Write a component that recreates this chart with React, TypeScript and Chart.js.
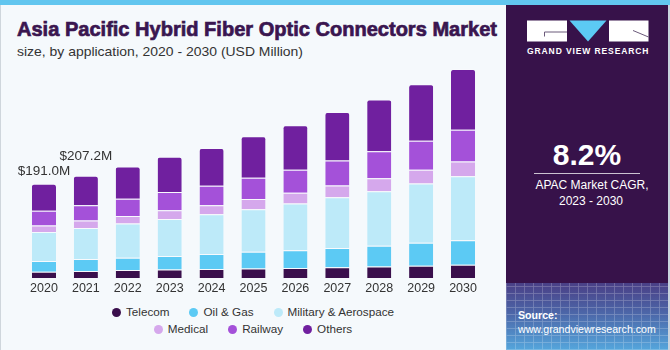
import React, { useEffect, useLayoutEffect, useRef } from "react";
import { Chart, registerables } from "chart.js";

Chart.register(...registerables);

const years = ["2020", "2021", "2022", "2023", "2024", "2025", "2026", "2027", "2028", "2029", "2030"];
const telecom = [12.9, 14.2, 16.0, 17.4, 18.4, 19.2, 20.3, 21.7, 23.5, 25.0, 27.0];
const oilGas = [21.6, 24.4, 25.0, 27.0, 30.5, 33.8, 35.9, 39.2, 42.0, 46.7, 49.3];
const military = [58.9, 62.9, 69.7, 75.1, 80.5, 86.6, 94.8, 102.9, 110.3, 119.8, 129.9];
const medical = [12.9, 14.9, 14.9, 17.6, 18.3, 20.3, 21.7, 23.7, 26.4, 27.8, 29.8];
const railway = [29.8, 31.1, 35.2, 37.2, 39.3, 43.3, 46.7, 50.8, 54.8, 58.9, 64.4];
const others = [55.0, 59.7, 65.0, 71.7, 76.5, 83.9, 90.0, 98.0, 104.9, 114.3, 123.2];
const totalLabels = ["$191.0M", "$207.2M"];

const seriesNames = ["Telecom", "Oil & Gas", "Military & Aerospace", "Medical", "Railway", "Others"];
const seriesColors = ["#3a0f4c", "#5ccaf4", "#bdeaf9", "#d5a8ec", "#a451d9", "#70209f"];
const seriesData = [telecom, oilGas, military, medical, railway, others];

const labelOffsets = [12, 20];

function FitText({ text, width, style }: { text: string; width: number; style: React.CSSProperties }) {
  const ref = useRef<HTMLSpanElement>(null);
  useLayoutEffect(() => {
    const el = ref.current;
    if (!el) return;
    el.style.transform = "none";
    const w = el.getBoundingClientRect().width;
    if (w > 0) el.style.transform = `scaleX(${width / w})`;
  }, [text, width]);
  return (
    <span
      ref={ref}
      style={{ ...style, display: "inline-block", whiteSpace: "nowrap", transformOrigin: "left center" }}
    >
      {text}
    </span>
  );
}

const totalsPlugin = {
  id: "totalsLabels",
  afterDatasetsDraw(chart: any) {
    const ctx = chart.ctx;
    const meta = chart.getDatasetMeta(chart.data.datasets.length - 1);
    ctx.save();
    ctx.font = '13.5px "Liberation Sans", Arial, sans-serif';
    ctx.fillStyle = "#333333";
    ctx.textAlign = "center";
    ctx.textBaseline = "middle";
    totalLabels.forEach((t, i) => {
      const el = meta.data[i];
      if (!el) return;
      ctx.fillText(t, el.x, el.y - labelOffsets[i]);
    });
    ctx.restore();
  },
};

function BarChart() {
  const canvasRef = useRef<HTMLCanvasElement>(null);
  useEffect(() => {
    const canvas = canvasRef.current;
    if (!canvas) return;
    const chart = new Chart(canvas, {
      type: "bar",
      data: {
        labels: years,
        datasets: seriesData.map((d, i) => ({
          label: seriesNames[i],
          data: d,
          backgroundColor: seriesColors[i],
          borderColor: "rgba(255,255,255,0.28)",
          borderWidth: { top: 1, left: 0, right: 0, bottom: 0 },
          borderRadius: i === seriesData.length - 1 ? { topLeft: 3, topRight: 3, bottomLeft: 0, bottomRight: 0 } : 0,
          borderSkipped: false,
          barPercentage: 0.575,
          categoryPercentage: 1,
        })),
      },
      options: {
        responsive: false,
        animation: false,
        devicePixelRatio: 1,
        layout: { padding: { left: 23, right: 22, top: 0, bottom: 0 } },
        plugins: {
          legend: { display: false },
          tooltip: { enabled: false },
          title: { display: false },
        },
        scales: {
          x: {
            stacked: true,
            grid: { display: false, drawTicks: false },
            border: { display: false },
            ticks: {
              color: "#333333",
              padding: 3,
              font: { family: '"Liberation Sans", Arial, sans-serif', size: 12.5 },
            },
          },
          y: {
            stacked: true,
            display: false,
            min: 0,
            max: 450,
          },
        },
      },
      plugins: [totalsPlugin],
    });
    return () => chart.destroy();
  }, []);
  return (
    <canvas
      ref={canvasRef}
      width={506}
      height={243}
      style={{ position: "absolute", left: 0, top: 56, width: 506, height: 243 }}
    />
  );
}

function Legend() {
  const rows = [
    [0, 1, 2],
    [3, 4, 5],
  ];
  const tops = [304, 321];
  return (
    <>
      {rows.map((r, ri) => (
        <div
          key={ri}
          style={{
            position: "absolute",
            left: 0,
            width: 506,
            top: tops[ri],
            height: 16,
            display: "flex",
            justifyContent: "center",
            alignItems: "center",
            gap: 20,
          }}
        >
          {r.map((i) => (
            <div key={i} style={{ display: "flex", alignItems: "center" }}>
              <span
                style={{
                  display: "inline-block",
                  width: 9,
                  height: 9,
                  borderRadius: "50%",
                  background: seriesColors[i],
                  marginRight: 5,
                }}
              />
              <span style={{ fontSize: 11.7, color: "#333333", lineHeight: "16px" }}>{seriesNames[i]}</span>
            </div>
          ))}
        </div>
      ))}
    </>
  );
}

function Logo() {
  return (
    <svg width={122} height={22} style={{ position: "absolute", left: 526.5, top: 19.5 }} viewBox="0 0 122 22">
      <rect x={0} y={0.5} width={40} height={21} fill="#ffffff" />
      <path d="M17.5 12 H40 M17.5 12 V16.5" stroke="#6b5a7a" strokeWidth={1} fill="none" />
      <polygon points="42.5,0.5 79.5,0.5 61,21.5" fill="#5ccaf4" />
      <rect x={82} y={0.5} width={39.5} height={21} fill="#ffffff" />
      <path d="M106 10.5 L121.5 17" stroke="#6b5a7a" strokeWidth={1} fill="none" />
    </svg>
  );
}

export default function App() {
  const font = '"Liberation Sans", Arial, Helvetica, sans-serif';
  return (
    <div
      style={{
        position: "absolute",
        left: 0,
        top: 0,
        width: 670,
        height: 350,
        overflow: "hidden",
        background: "#f5f9fc",
        fontFamily: font,
      }}
    >
      <div style={{ position: "absolute", left: 0, top: 0, width: 1, height: 350, background: "#cfd6dc" }} />
      <div style={{ position: "absolute", left: 0, top: 0, width: 670, height: 5, background: "#62c6ef" }} />
      <div style={{ position: "absolute", left: 17, top: 19.3, lineHeight: 1 }}>
        <FitText
          text="Asia Pacific Hybrid Fiber Optic Connectors Market"
          width={480}
          style={{
            fontSize: 20.5,
            fontWeight: 900,
            color: "#3a1650",
            lineHeight: 1,
            WebkitTextStroke: "0.7px #3a1650",
          }}
        />
      </div>
      <div style={{ position: "absolute", left: 17, top: 42.6, lineHeight: 1 }}>
        <FitText
          text="size, by application, 2020 - 2030 (USD Million)"
          width={286}
          style={{ fontSize: 12.6, color: "#333333", lineHeight: 1 }}
        />
      </div>

      <BarChart />
      <Legend />

      <div
        style={{
          position: "absolute",
          left: 506,
          top: 5,
          width: 162,
          height: 345,
          background: "#37124a",
          overflow: "hidden",
        }}
      >
        <div
          style={{
            position: "absolute",
            left: 0,
            top: 278,
            width: 162,
            height: 67,
            background: "linear-gradient(180deg, #4a3f86 0%, #4c66a8 45%, #55a6dc 100%)",
          }}
        />
        <div
          style={{
            position: "absolute",
            left: 0,
            top: 278,
            width: 162,
            height: 67,
            opacity: 0.25,
            backgroundImage:
              "repeating-linear-gradient(90deg, rgba(255,255,255,0.8) 0px, rgba(255,255,255,0.8) 1px, transparent 1px, transparent 9px), repeating-linear-gradient(0deg, rgba(255,255,255,0.8) 0px, rgba(255,255,255,0.8) 1px, transparent 1px, transparent 7px)",
          }}
        />
      </div>
      <div style={{ position: "absolute", left: 668, top: 5, width: 2, height: 345, background: "#c9d3de" }} />

      <Logo />
      <div
        style={{
          position: "absolute",
          left: 527,
          top: 47.1,
          fontSize: 8.5,
          fontWeight: 700,
          letterSpacing: 0.9,
          color: "#ffffff",
          lineHeight: 1,
          whiteSpace: "nowrap",
        }}
      >
        GRAND VIEW RESEARCH
      </div>

      <div
        style={{
          position: "absolute",
          left: 506,
          width: 162,
          top: 140.3,
          textAlign: "center",
          fontSize: 30,
          fontWeight: 700,
          color: "#ffffff",
          lineHeight: 1,
        }}
      >
        8.2%
      </div>
      <div style={{ position: "absolute", left: 534, top: 173, width: 106, height: 1, background: "rgba(255,255,255,0.75)" }} />
      <div
        style={{
          position: "absolute",
          left: 506,
          width: 172,
          top: 179.1,
          textAlign: "center",
          fontSize: 12,
          color: "#ffffff",
          lineHeight: 1,
        }}
      >
        APAC Market CAGR,
      </div>
      <div
        style={{
          position: "absolute",
          left: 506,
          width: 170,
          top: 194.5,
          textAlign: "center",
          fontSize: 12,
          color: "#ffffff",
          lineHeight: 1,
        }}
      >
        2023 - 2030
      </div>

      <div
        style={{
          position: "absolute",
          left: 518,
          top: 310.3,
          fontSize: 10.6,
          fontWeight: 700,
          color: "#ffffff",
          lineHeight: 1,
        }}
      >
        Source:
      </div>
      <div
        style={{
          position: "absolute",
          left: 518,
          top: 324.3,
          fontSize: 10.6,
          color: "#ffffff",
          lineHeight: 1,
          whiteSpace: "nowrap",
        }}
      >
        www.grandviewresearch.com
      </div>
    </div>
  );
}
